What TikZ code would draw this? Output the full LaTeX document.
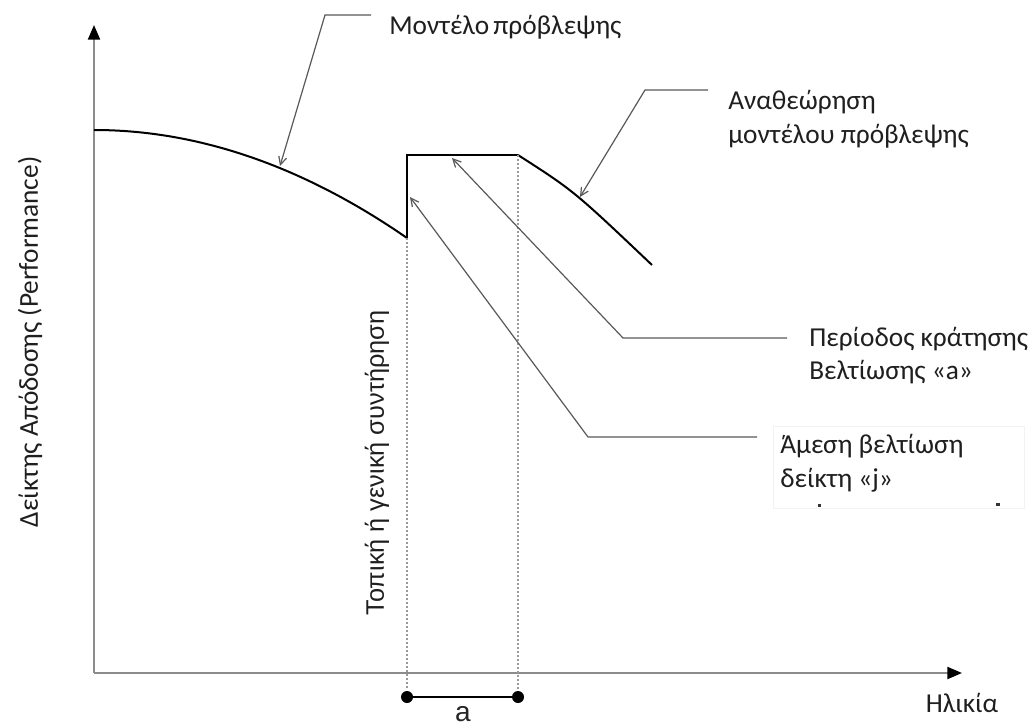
\documentclass[tikz,border=0pt]{standalone}
\usepackage{fontspec}
\setmainfont{Carlito}
\newfontfamily\arialfont{Liberation Sans}
\usetikzlibrary{arrows.meta}

\begin{document}
\begin{tikzpicture}[x=0.75pt,y=-0.75pt,
  axisline/.style={draw=black!45,line width=1.6pt},
  axistip/.style={-{Triangle[length=11pt,width=9pt,color=black,fill=black]}},
  curveline/.style={draw=black,line width=1.5pt},
  guide/.style={draw=black!40,line width=0.8pt,dash pattern=on 1.5pt off 1.5pt},
  leader/.style={draw=black!65,line width=0.9pt},
  leaderarrow/.style={leader,-{Straight Barb[length=6pt,width=6pt,line width=0.9pt]}},
  lbl/.style={inner sep=0pt,text=black!88,font=\fontsize{20.5}{25.5}\selectfont},
  dotmark/.style={circle,fill=black,inner sep=0pt,minimum size=9pt}
]
\useasboundingbox (0,0) rectangle (1030,727);
\fill[white] (0,0) rectangle (1030,727);

% axes
\coordinate (O) at (94,673);
\coordinate (ytip) at (94,25);
\coordinate (xtip) at (962,673);
\draw[axisline,axistip] (O) -- (ytip);
\draw[axisline,axistip] (O) -- (xtip);

% performance curve: forecast model, intervention jump, plateau, revised model
\coordinate (c0) at (94,130);
\coordinate (c1) at (407,238);
\coordinate (c2) at (407,155);
\coordinate (c3) at (518,155);
\coordinate (c4) at (652,265);
\draw[curveline] (c0) .. controls (198,130) and (303,166) .. (c1);
\draw[curveline,line join=miter] (c1) -- (c2) -- (c3);
\draw[curveline] (c3) .. controls (574,191) .. (c4);

% vertical guides
\coordinate (g1) at (407,690);
\coordinate (g2) at (518,690);
\draw[guide] (c1) -- (g1);
\draw[guide] (c3) -- (g2);

% period "a" marker
\node[dotmark] (d1) at (407,697) {};
\node[dotmark] (d2) at (518,697) {};
\draw[black,line width=1.3pt] (d1) -- (d2);
\node[inner sep=0pt,font=\arialfont\fontsize{21}{21}\selectfont,text=black!85] (alabel) at (463,714) {a};

% axis labels
\node[lbl,rotate=90] (ylabel) at (30,342) {Δείκτης Απόδοσης (Performance)};
\node[lbl] (xlabel) at (962,703) {Ηλικία};
\node[lbl,rotate=90,font=\arialfont\fontsize{19}{24}\selectfont] (mlabel) at (377,463) {Τοπική ή γενική συντήρηση};

% callout texts
\node[lbl,anchor=base west] (t1) at (389,35) {Μοντέλο\hspace{3pt}πρόβλεψης};
\node[lbl,anchor=base west] (t2a) at (728,110) {Αναθεώρηση};
\node[lbl,anchor=base west] (t2b) at (728,144) {μοντέλου πρόβλεψης};
\node[lbl,anchor=base west] (t3a) at (809,346) {Περίοδος κράτησης};
\node[lbl,anchor=base west] (t3b) at (809,379) {Βελτίωσης «a»};
\draw[black!5,line width=0.6pt] (773,426) rectangle (1024,508);
\node[lbl,anchor=base west] (t4a) at (780,453) {Άμεση βελτίωση};
\node[lbl,anchor=base west] (t4b) at (780,487) {δείκτη «j»};
\fill[black!80] (818,504) rectangle (821,507);
\fill[black!80] (996,503) rectangle (1000,506);

% callout leaders
\coordinate (p1) at (280,166);
\coordinate (k1) at (325,15);
\coordinate (e1) at (371,15);
\draw[leaderarrow] (e1) -- (k1) -- (p1);

\coordinate (p2) at (580,197);
\coordinate (k2) at (645,90);
\coordinate (e2) at (708,90);
\draw[leaderarrow] (e2) -- (k2) -- (p2);

\coordinate (p3) at (452,158);
\coordinate (k3) at (623,338);
\coordinate (e3) at (787,338);
\draw[leaderarrow] (e3) -- (k3) -- (p3);

\coordinate (p4) at (410,197);
\coordinate (k4) at (588,437);
\coordinate (e4) at (757,437);
\draw[leaderarrow] (e4) -- (k4) -- (p4);
\end{tikzpicture}
\end{document}
